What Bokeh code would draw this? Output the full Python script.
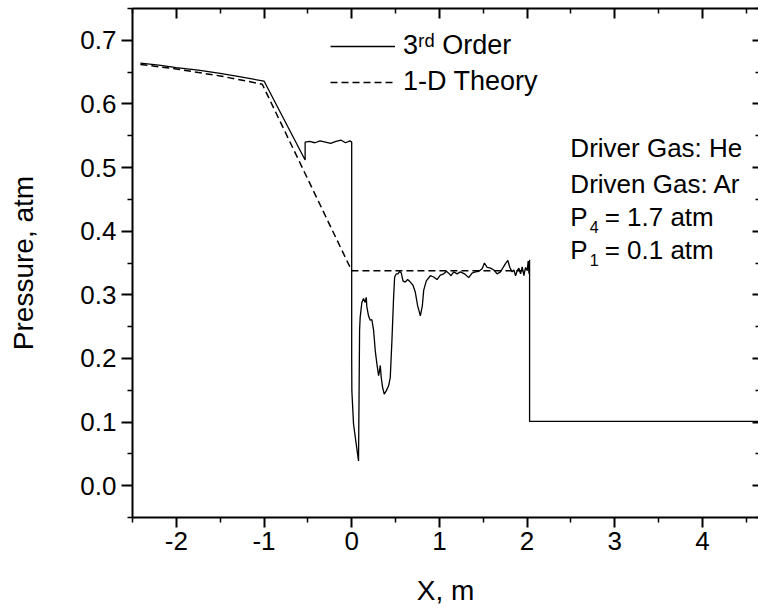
from bokeh.plotting import figure
from bokeh.models import (FixedTicker, LinearAxis, Label, Legend, LegendItem,
                          PrintfTickFormatter, Range1d, CustomJSTickFormatter)
from bokeh.embed import file_html
from bokeh.resources import INLINE

# ---------------- data ----------------
theory_x = [-2.41, -2.0, -1.5, -1.02, 0.0, 2.0]
theory_y = [0.662, 0.655, 0.644, 0.631, 0.338, 0.338]

order3_x = [-2.41, -2.2, -2.0, -1.75, -1.5, -1.25, -1.0, -0.531, -0.531, -0.48,
            -0.42, -0.36, -0.30, -0.24, -0.18, -0.12, -0.07, -0.02, 0.0, 0.0,
            0.002, 0.021, 0.051, 0.078, 0.090, 0.097, 0.116, 0.135, 0.154, 0.166,
            0.173, 0.192, 0.211, 0.230, 0.250, 0.269, 0.288, 0.307, 0.318, 0.326,
            0.337, 0.352, 0.371, 0.394, 0.421, 0.440, 0.459, 0.478, 0.490, 0.509,
            0.528, 0.547, 0.566, 0.585, 0.611, 0.638, 0.669, 0.699, 0.726, 0.752,
            0.783, 0.806, 0.821, 0.851, 0.897, 0.935, 0.973, 1.011, 1.050, 1.080,
            1.107, 1.133, 1.164, 1.202, 1.240, 1.286, 1.335, 1.373, 1.411, 1.450,
            1.488, 1.514, 1.545, 1.583, 1.621, 1.659, 1.697, 1.728, 1.754, 1.781,
            1.804, 1.830, 1.850, 1.869, 1.888, 1.907, 1.926, 1.945, 1.964, 1.983,
            2.002, 2.013, 2.022, 2.029, 2.029, 4.70]
order3_y = [0.664, 0.661, 0.657, 0.653, 0.648, 0.642, 0.636, 0.512, 0.540, 0.541,
            0.539, 0.542, 0.540, 0.538, 0.541, 0.543, 0.539, 0.542, 0.540, 0.200,
            0.149, 0.097, 0.066, 0.039, 0.244, 0.265, 0.288, 0.294, 0.288, 0.296,
            0.281, 0.267, 0.260, 0.261, 0.244, 0.212, 0.191, 0.173, 0.181, 0.189,
            0.170, 0.155, 0.144, 0.149, 0.157, 0.170, 0.228, 0.296, 0.328, 0.333,
            0.333, 0.337, 0.334, 0.322, 0.320, 0.324, 0.320, 0.315, 0.304, 0.283,
            0.267, 0.283, 0.307, 0.322, 0.330, 0.328, 0.324, 0.331, 0.333, 0.337,
            0.334, 0.330, 0.336, 0.333, 0.336, 0.333, 0.327, 0.334, 0.336, 0.337,
            0.341, 0.350, 0.343, 0.342, 0.339, 0.333, 0.336, 0.343, 0.349, 0.354,
            0.343, 0.336, 0.339, 0.330, 0.338, 0.342, 0.333, 0.344, 0.330, 0.343,
            0.338, 0.353, 0.333, 0.355, 0.101, 0.101]

x_major = [-2, -1, 0, 1, 2, 3, 4]
x_minor = [-2.5, -1.5, -0.5, 0.5, 1.5, 2.5, 3.5, 4.5]
y_major = [0.0, 0.1, 0.2, 0.3, 0.4, 0.5, 0.6, 0.7]
y_minor = [-0.05, 0.05, 0.15, 0.25, 0.35, 0.45, 0.55, 0.65, 0.75]

legend_labels = ["3\u02b3\u1d48 Order", "1-D Theory"]
info_lines = ["Driver Gas: He", "Driven Gas: Ar"]

FONT = "Liberation Sans"

p = figure(width=758, height=616, output_backend="svg", toolbar_location=None,
           x_range=Range1d(-2.5, 4.64), y_range=Range1d(-0.05, 0.75),
           min_border_left=132, min_border_right=0, min_border_top=8,
           min_border_bottom=99)
p.outline_line_color = None
p.xgrid.visible = False
p.ygrid.visible = False
p.background_fill_color = "white"
p.border_fill_color = "white"

r_solid = p.line(order3_x, order3_y, line_color="black", line_width=1.3)
r_dash = p.line(theory_x, theory_y, line_color="black", line_width=1.5,
                line_dash="7 4")

xt = FixedTicker(ticks=x_major, minor_ticks=x_minor)
yt = FixedTicker(ticks=y_major, minor_ticks=y_minor)


def style_axis(ax):
    ax.axis_line_color = "black"
    ax.axis_line_width = 2
    ax.major_tick_line_color = "black"
    ax.major_tick_line_width = 2
    ax.minor_tick_line_color = "black"
    ax.minor_tick_line_width = 1.5
    ax.major_label_text_font = FONT
    ax.major_label_text_color = "black"
    ax.axis_label_text_font = FONT
    ax.axis_label_text_font_style = "normal"
    ax.axis_label_text_color = "black"


xa = p.xaxis[0]
style_axis(xa)
xa.ticker = xt
xa.formatter = PrintfTickFormatter(format="%d")
xa.major_tick_out = 10
xa.major_tick_in = 0
xa.minor_tick_out = 5
xa.minor_tick_in = 0
xa.major_label_text_font_size = "26px"
xa.major_label_standoff = 4
xa.axis_label = "X, m"
xa.axis_label_text_font_size = "28px"
xa.axis_label_standoff = 22

ya = p.yaxis[0]
style_axis(ya)
ya.ticker = yt
ya.formatter = PrintfTickFormatter(format="%.1f")
ya.major_tick_out = 11
ya.major_tick_in = 0
ya.minor_tick_out = 5
ya.minor_tick_in = 0
ya.major_label_text_font_size = "26px"
ya.major_label_standoff = 5
ya.axis_label = "Pressure, atm"
ya.axis_label_text_font_size = "28px"
ya.axis_label_standoff = 38

blank = CustomJSTickFormatter(code="return ''")

top = LinearAxis(ticker=FixedTicker(ticks=x_major, minor_ticks=x_minor),
                 formatter=blank)
style_axis(top)
top.major_tick_out = 0
top.major_tick_in = 10
top.minor_tick_out = 0
top.minor_tick_in = 5
top.major_label_text_font_size = "0px"
top.major_label_standoff = 0
p.add_layout(top, "above")

right = LinearAxis(ticker=FixedTicker(ticks=y_major, minor_ticks=y_minor),
                   formatter=blank)
style_axis(right)
right.axis_line_color = None
right.major_tick_out = 0
right.major_tick_in = 6
right.minor_tick_out = 0
right.minor_tick_in = 3
right.major_label_text_font_size = "0px"
right.major_label_standoff = 0
p.add_layout(right, "right")

legend = Legend(items=[LegendItem(label=legend_labels[0], renderers=[r_solid]),
                       LegendItem(label=legend_labels[1], renderers=[r_dash])],
                location=(198, 420), padding=0, margin=0, spacing=5,
                glyph_width=65, glyph_height=30, label_height=30,
                label_standoff=8, border_line_color=None,
                background_fill_alpha=0, label_text_font=FONT,
                label_text_font_size="27px", label_text_color="black")
p.add_layout(legend, "center")

for txt, yy in zip(info_lines, [0.530, 0.4746]):
    p.add_layout(Label(x=2.494, y=yy, text=txt, text_font=FONT,
                       text_font_size="26px", text_color="black",
                       text_baseline="alphabetic"))

for sub, rest, yy in [("4", "= 1.7 atm", 0.422), ("1", "= 0.1 atm", 0.370)]:
    p.add_layout(Label(x=2.494, y=yy, text="P", text_font=FONT,
                       text_font_size="26px", text_color="black",
                       text_baseline="alphabetic"))
    p.add_layout(Label(x=2.714, y=yy, y_offset=-10, text=sub, text_font=FONT,
                       text_font_size="16px", text_color="black",
                       text_baseline="alphabetic"))
    p.add_layout(Label(x=2.885, y=yy, text=rest, text_font=FONT,
                       text_font_size="26px", text_color="black",
                       text_baseline="alphabetic"))

open("out.html", "w").write(file_html(p, INLINE))
